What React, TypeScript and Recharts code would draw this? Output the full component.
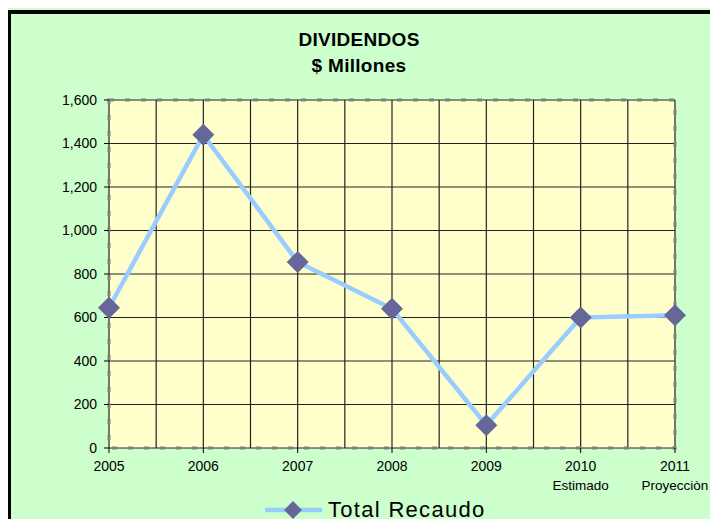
import { LineChart, Line, CartesianGrid, XAxis, YAxis, ReferenceArea } from 'recharts';

const years = [2005, 2006, 2007, 2008, 2009, 2010, 2011];
const recaudo = [645, 1440, 855, 640, 105, 600, 610];
const yearNotes: Record<number, string> = { 2010: 'Estimado', 2011: 'Proyecciòn' };
const yTicks = [0, 200, 400, 600, 800, 1000, 1200, 1400, 1600];
const halfYears = [2005, 2005.5, 2006, 2006.5, 2007, 2007.5, 2008, 2008.5, 2009, 2009.5, 2010, 2010.5, 2011];

const data = years.map((year, i) => ({ year, total: recaudo[i] }));

const FONT = '"Liberation Sans", Arial, sans-serif';

const Diamond = (props: any) => {
  const { cx, cy } = props;
  if (cx == null || cy == null) return null;
  const r = 11;
  return (
    <path
      d={`M${cx},${cy - r} L${cx + r},${cy} L${cx},${cy + r} L${cx - r},${cy} Z`}
      fill="#666699"
      stroke="none"
    />
  );
};

const YearTick = (props: any) => {
  const { x, y, payload } = props;
  const note = yearNotes[payload.value];
  return (
    <g>
      <text x={x} y={y + 16} textAnchor="middle" fontSize={14} fill="#000" fontFamily={FONT}>
        {payload.value}
      </text>
      {note && (
        <text x={x} y={y + 35} textAnchor="middle" fontSize={13.5} fill="#000" fontFamily={FONT}>
          {note}
        </text>
      )}
    </g>
  );
};

const App = () => {
  return (
    <div style={{ position: 'relative', width: 718, height: 527, margin: -8, overflow: 'hidden', background: '#CCFFCC', fontFamily: FONT }}>
      <div style={{ position: 'absolute', left: 7, top: 10, width: 760, height: 560, borderLeft: '4px solid #000', borderTop: '4px solid #000' }} />
      <div style={{ position: 'absolute', left: 0, top: 27, width: 718, textAlign: 'center', fontWeight: 'bold', fontSize: 19, letterSpacing: 0.3, lineHeight: '26px', color: '#000' }}>
        <div>DIVIDENDOS</div>
        <div>$ Millones</div>
      </div>
      <div style={{ position: 'absolute', left: 0, top: 0 }}>
        <LineChart width={718} height={527} data={data} margin={{ top: 100, right: 43, bottom: 39, left: 49 }}>
          <CartesianGrid fill="#FFFFCC" stroke="#222" strokeWidth={1.2} horizontalValues={yTicks} verticalValues={halfYears} />
          <ReferenceArea x1={2005} x2={2011} y1={0} y2={1600} fill="none" fillOpacity={0} stroke="#7f7f7f" strokeWidth={3} strokeDasharray="5 11" ifOverflow="visible" />
          <XAxis
            dataKey="year"
            type="number"
            domain={[2005, 2011]}
            ticks={years}
            height={40}
            axisLine={false}
            tickSize={5}
            tickLine={{ stroke: '#000' }}
            tick={<YearTick />}
            interval={0}
          />
          <YAxis
            domain={[0, 1600]}
            ticks={yTicks}
            width={60}
            axisLine={false}
            tickSize={5}
            tickMargin={7}
            tickLine={{ stroke: '#000' }}
            tick={{ fontSize: 14, fill: '#000', fontFamily: FONT }}
            tickFormatter={(v: number) => v.toLocaleString('en-US')}
            interval={0}
          />
          <Line
            type="linear"
            dataKey="total"
            stroke="#99CCFF"
            strokeWidth={4.5}
            dot={<Diamond />}
            activeDot={false}
            isAnimationActive={false}
          />
        </LineChart>
      </div>
      <div style={{ position: 'absolute', left: 265, top: 496, height: 28, display: 'flex', alignItems: 'center' }}>
        <svg width={58} height={28}>
          <line x1={0} y1={14} x2={57} y2={14} stroke="#99CCFF" strokeWidth={4.5} />
          <path d="M28,5 L37,14 L28,23 L19,14 Z" fill="#666699" />
        </svg>
        <span style={{ marginLeft: 5, fontSize: 22, letterSpacing: 1.3, color: '#000' }}>Total Recaudo</span>
      </div>
    </div>
  );
};

export default App;
